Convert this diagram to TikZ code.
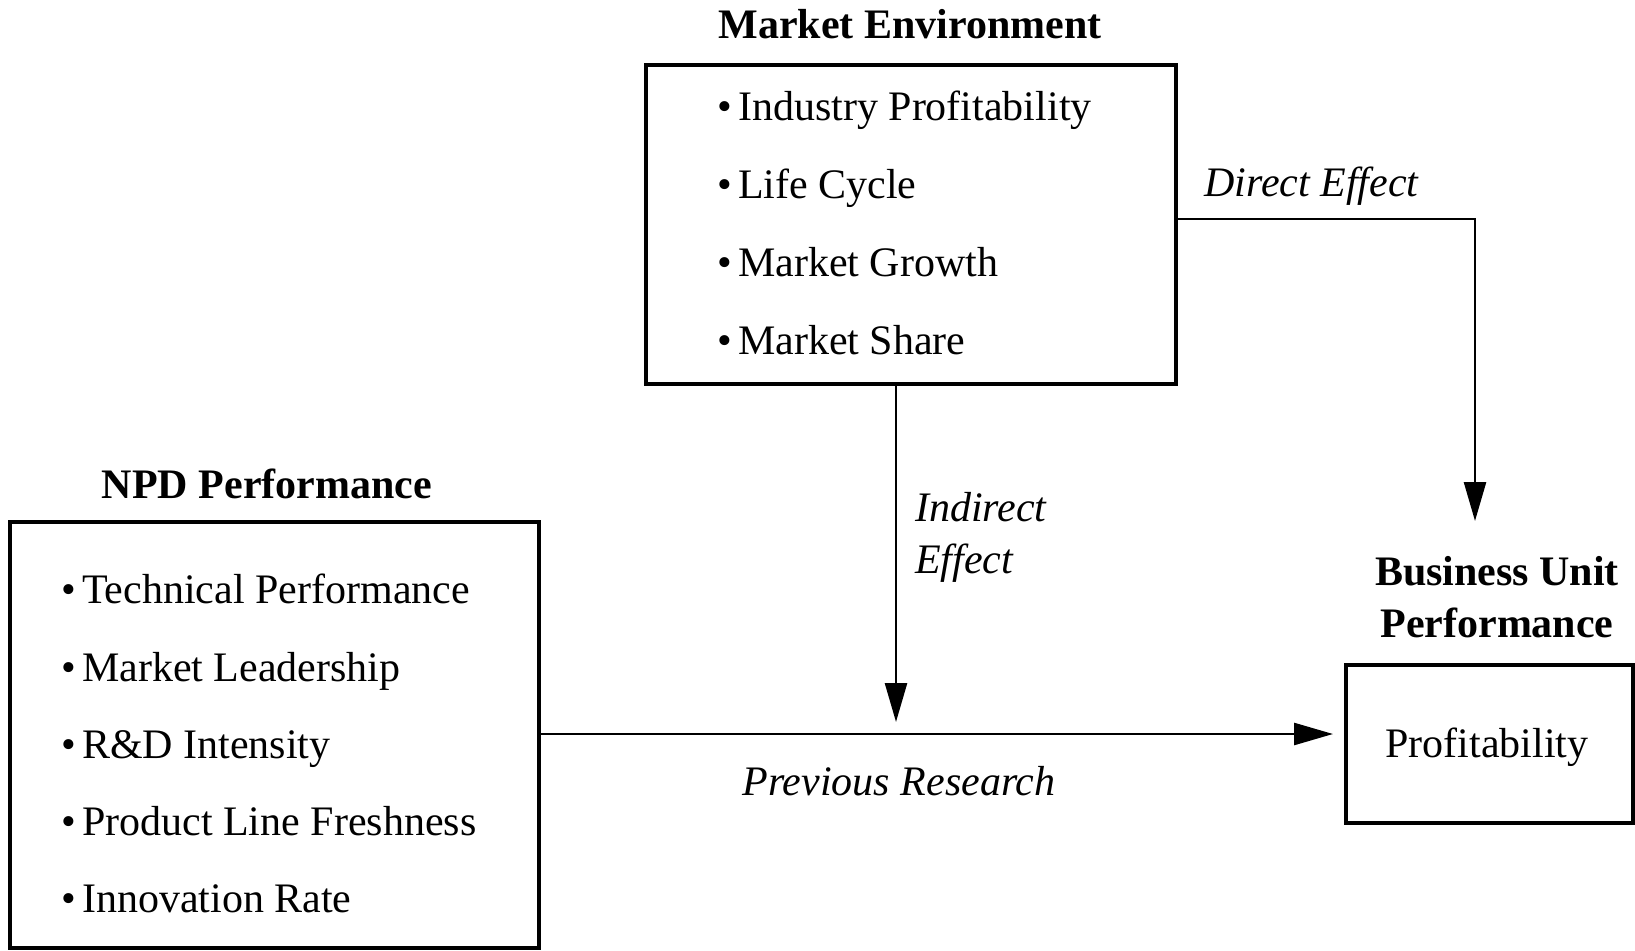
\documentclass[tikz,border=0pt]{standalone}
\usepackage{fontspec}
\setmainfont{Liberation Serif}
\usetikzlibrary{arrows.meta}
\begin{document}
\begin{tikzpicture}[x=1pt,y=-1pt,
  box/.style={draw, line width=4pt, inner sep=0pt},
  txt/.style={inner sep=0pt, anchor=base west, font=\fontsize{42}{50}\selectfont},
  ctxt/.style={inner sep=0pt, anchor=base, font=\fontsize{42}{50}\selectfont},
  ttl/.style={inner sep=0pt, anchor=base, font=\fontsize{42}{50}\selectfont\bfseries},
  lbl/.style={inner sep=0pt, anchor=base west, font=\fontsize{42}{50}\selectfont\itshape},
  clbl/.style={inner sep=0pt, anchor=base, font=\fontsize{42}{50}\selectfont\itshape},
  conn/.style={line width=2.6pt, -{Triangle[length=39pt,width=22pt]}}
]
\useasboundingbox (0,0) rectangle (1635,950);
% boxes
\node[box, minimum width=530pt, minimum height=319pt] (me) at (911,224.5) {};
\node[box, minimum width=529pt, minimum height=426pt] (npd) at (274.5,735) {};
\node[box, minimum width=287pt, minimum height=158pt] (prof) at (1489.5,744) {};
% titles
\node[ttl] (met) at (910,39) {Market Environment};
\node[ttl] (npdt) at (267,498) {NPD Performance};
\node[ttl] (bu1) at (1497,585) {Business Unit};
\node[ttl] (bu2) at (1497,637) {Performance};
% market items
\node[txt] (m1) at (717,120) {\textbullet\hspace{0.15em}Industry Profitability};
\node[txt] (m2) at (717,198) {\textbullet\hspace{0.15em}Life Cycle};
\node[txt] (m3) at (717,276) {\textbullet\hspace{0.15em}Market Growth};
\node[txt] (m4) at (717,354) {\textbullet\hspace{0.15em}Market Share};
% npd items
\node[txt] (n1) at (61,603) {\textbullet\hspace{0.15em}Technical Performance};
\node[txt] (n2) at (61,681) {\textbullet\hspace{0.15em}Market Leadership};
\node[txt] (n3) at (61,758) {\textbullet\hspace{0.15em}R\&D Intensity};
\node[txt] (n4) at (61,835) {\textbullet\hspace{0.15em}Product Line Freshness};
\node[txt] (n5) at (61,912) {\textbullet\hspace{0.15em}Innovation Rate};
% profitability
\node[ctxt] (pt1) at (1487,757) {Profitability};
% labels
\node[lbl] (de) at (1204,196) {Direct Effect};
\node[lbl] (ie1) at (915,521) {Indirect};
\node[lbl] (ie2) at (915,573) {Effect};
\node[clbl] (pr) at (899,795) {Previous Research};
% connectors
\coordinate (dc) at (1475,219);
\coordinate (dt) at (1475,521);
\draw[conn] (me.east |- dc) -- (dc) -- (dt);
\coordinate (it) at (896,722);
\draw[conn] (me.south -| it) -- (it);
\coordinate (ptip) at (1333,734);
\draw[conn] (npd.east |- ptip) -- (ptip);
\end{tikzpicture}
\end{document}
